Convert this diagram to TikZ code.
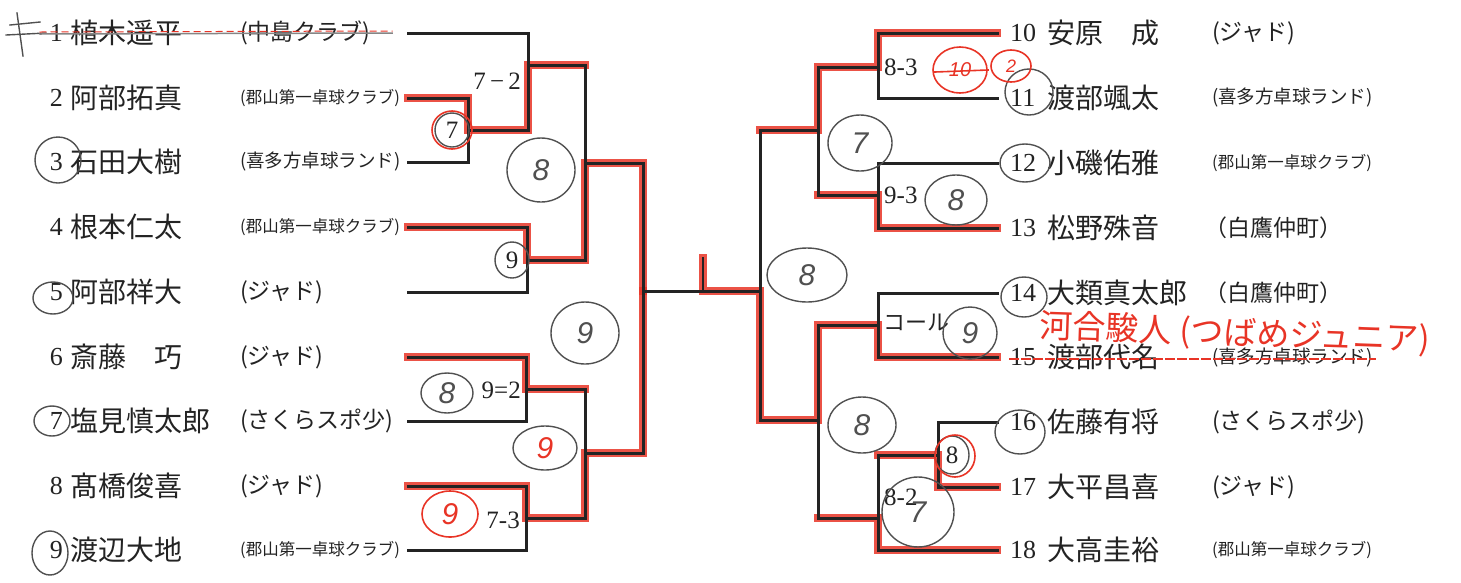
\documentclass[tikz,border=0pt]{standalone}
\usepackage{fontspec}
\setmainfont{Liberation Serif}
\newfontfamily\jp{Noto Sans CJK JP}
\newfontfamily\hand{Liberation Sans}
\definecolor{redpen}{RGB}{232,52,38}
\definecolor{pencil}{RGB}{80,80,80}
\definecolor{ink}{RGB}{35,35,35}
\tikzset{
  bline/.style={ink,line width=3pt},
  rline/.style={redpen,line width=8pt,opacity=.85},
  pen/.style={pencil,line width=1.4pt},
  rpen/.style={redpen,line width=1.6pt},
  num/.style={inner sep=0,text=ink,font=\fontsize{26}{28}\selectfont},
  pname/.style={inner sep=0,anchor=west,text=ink,font=\jp\fontsize{28}{30}\selectfont},
  bigclub/.style={inner sep=0,anchor=west,text=ink,font=\jp\fontsize{23}{25}\selectfont},
  smallclub/.style={inner sep=0,anchor=west,text=ink,font=\jp\fontsize{16.5}{18}\selectfont},
  kitaclub/.style={smallclub,font=\jp\fontsize{18.5}{20}\selectfont},
  score/.style={inner sep=0,text=ink,font=\fontsize{25}{27}\selectfont},
  handnum/.style={inner sep=0,text=pencil,font=\hand\itshape\fontsize{30}{32}\selectfont},
}
\begin{document}
\begin{tikzpicture}[x=1pt,y=-1pt,line cap=rect,line join=miter]
\useasboundingbox (0,0) rectangle (1461,582);
% line ends of the entries
\foreach \i/\y in {1/33,2/98,3/162,4/227,5/292,6/357,7/421,8/486,9/550}
  \coordinate (s\i) at (408,\y);
\foreach \i/\y in {10/33,11/98,12/163,13/228,14/293,15/357,16/422,17/487,18/550}
  \coordinate (t\i) at (997,\y);
% junctions
\coordinate (j23) at (468,130);
\coordinate (j1) at (528,65);
\coordinate (j45) at (527,260);
\coordinate (jA) at (585,163);
\coordinate (j67) at (526,389);
\coordinate (j89) at (526,518);
\coordinate (jB) at (585,453);
\coordinate (jL) at (643,291);
\coordinate (jR) at (760,291);
\coordinate (j1011) at (878,67);
\coordinate (j1213) at (878,195);
\coordinate (jC) at (818,130);
\coordinate (j1415) at (878,325);
\coordinate (j1617) at (938,455);
\coordinate (j18) at (878,518);
\coordinate (jD) at (818,420);
\coordinate (rc) at (703,258);

% red winner traces
\draw[rline] (s2) -| (j23) -- (j23 -| j1) -- (j1) -- (j1 -| jA);
\draw[rline] (s4) -| (j45) -- (j45 -| jA) -- (jA) -- (jA -| jL) -- (jL);
\draw[rline] (s6) -| (j67) -- (j67 -| jB);
\draw[rline] (s8) -| (j89) -- (j89 -| jB) -- (jB) -- (jB -| jL) -- (jL);
\draw[rline] (rc) -- (rc |- jR) -- (jR) -- (jR |- jD) -- (jD) -- (jD |- j1415) -- (j1415) -- (j1415 |- t15) -- (t15);
\draw[rline] (jR |- jC) -- (jC) -- (jC |- j1011) -- (j1011) -- (j1011 |- t10) -- (t10);
\draw[rline] (jC |- j1213) -- (j1213) -- (j1213 |- t13) -- (t13);
\draw[rline] (jD |- j18) -- (j18) -- (j18 |- t18) -- (t18);
\draw[rline] (j18 |- j1617) -- (j1617) -- (j1617 |- t17) -- (t17);

% bracket
\draw[bline] (s2) -| (j23) |- (s3);
\draw[bline] (s1) -| (j1) |- (j23);
\draw[bline] (s4) -| (j45) |- (s5);
\draw[bline] (j1) -| (jA) |- (j45);
\draw[bline] (s6) -| (j67) |- (s7);
\draw[bline] (s8) -| (j89) |- (s9);
\draw[bline] (j67) -| (jB) |- (j89);
\draw[bline] (jA) -| (jL) |- (jB);
\draw[bline] (jL) -- (jR);
\draw[ink,line width=1.5pt] (rc) -- (rc |- jR);
\draw[bline] (t10) -| (j1011) |- (t11);
\draw[bline] (t12) -| (j1213) |- (t13);
\draw[bline] (j1011) -| (jC) |- (j1213);
\draw[bline] (jC) -| (jR) |- (jD);
\draw[bline] (t14) -| (j1415) |- (t15);
\draw[bline] (t16) -| (j1617) |- (t17);
\draw[bline] (j1617) -| (j18) |- (t18);
\draw[bline] (j1415) -| (jD) |- (j18);

% left entries
\foreach \i/\y/\nm in {1/33/植木遥平,2/98/阿部拓真,3/162/石田大樹,4/227/根本仁太,5/292/阿部祥大,6/357/斎藤　巧,7/421/塩見慎太郎,8/486/髙橋俊喜,9/550/渡辺大地}{
  \node[num,anchor=east] (n\i) at (63,\y) {\i};
  \node[pname] (p\i) at (70,\y) {\nm};
}
\node[bigclub] (c1) at (240,33) {(中島クラブ)};
\node[smallclub] (c2) at (240,98) {(郡山第一卓球クラブ)};
\node[kitaclub] (c3) at (240,162) {(喜多方卓球ランド)};
\node[smallclub] (c4) at (240,227) {(郡山第一卓球クラブ)};
\node[bigclub] (c5) at (240,292) {(ジャド)};
\node[bigclub] (c6) at (240,357) {(ジャド)};
\node[bigclub] (c7) at (240,421) {(さくらスポ少)};
\node[bigclub] (c8) at (240,486) {(ジャド)};
\node[smallclub] (c9) at (240,550) {(郡山第一卓球クラブ)};

% right entries
\foreach \i/\y/\nm in {10/33/安原　成,11/98/渡部颯太,12/163/小磯佑雅,13/228/松野殊音,14/293/大類真太郎,15/357/渡部代名,16/422/佐藤有将,17/487/大平昌喜,18/550/大高圭裕}{
  \node[num,anchor=west] (n\i) at (1010,\y) {\i};
  \node[pname] (p\i) at (1047,\y) {\nm};
}
\node[bigclub] (c10) at (1212,33) {(ジャド)};
\node[kitaclub] (c11) at (1212,98) {(喜多方卓球ランド)};
\node[smallclub] (c12) at (1212,163) {(郡山第一卓球クラブ)};
\node[bigclub] (c13) at (1204,228) {（白鷹仲町）};
\node[bigclub] (c14) at (1204,293) {（白鷹仲町）};
\node[kitaclub] (c15) at (1212,358) {(喜多方卓球ランド)};
\node[bigclub] (c16) at (1212,422) {(さくらスポ少)};
\node[bigclub] (c17) at (1212,487) {(ジャド)};
\node[smallclub] (c18) at (1212,550) {(郡山第一卓球クラブ)};

% printed scores
\node[score,anchor=east] (k1) at (521,81) {7\,−\,2};
\node[score] (k23) at (452,130) {7};
\node[score] (k45) at (512,260) {9};
\node[score,anchor=east] (k67) at (521,390) {9=2};
\node[score,anchor=east] (k89) at (520,520) {7-3};
\node[score,anchor=west] (k1011) at (884,67) {8-3};
\node[score,anchor=west] (k1213) at (884,195) {9-3};
\node[anchor=west,inner sep=0,text=ink,font=\jp\fontsize{22}{24}\selectfont] (k1415) at (883,323) {コール};
\node[score] (k1617) at (952,455) {8};
\node[score,anchor=west] (k18) at (884,497) {8-2};

% pencil marks
\draw[pen] (10,25) -- (40,22);
\draw[pen] (6,35) -- (46,33);
\draw[pen] (17,13) -- (23,56);
\draw[pencil!70,line width=1.5pt] (40,34) -- (392,33);
\draw[redpen,line width=1pt,dash pattern=on 6pt off 5pt] (40,32) -- (392,31);
\draw[redpen,line width=1.2pt,dash pattern=on 8pt off 4pt] (1010,359) -- (1375,359);
\foreach \x/\y/\rx/\ry in {58/160/23/23,53/298/20/16,52/421/18/15,50/553/18/22,
  452/130/17/17,512/260/17/18,1029/92/24/23,1025/163/25/19,1024/297/23/20,1020/432/25/22,952/455/17/19}
  \draw[pen] (\x,\y) ellipse [x radius=\rx,y radius=\ry];
\draw[rpen] (452,130) ellipse [x radius=20,y radius=19];
\draw[rpen] (955,456) ellipse [x radius=20,y radius=21];

% handwritten results
\foreach \x/\y/\rx/\ry/\d/\nd in {541/170/34/32/8/h1,585/333/34/31/9/h2,447/393/26/20/8/h3,
  860/143/32/28/7/h4,956/200/31/25/8/h5,807/275/40/27/8/h6,970/333/27/26/9/h7,862/425/34/28/8/h8,918/512/36/35/7/h9}{
  \draw[pen] (\x,\y) ellipse [x radius=\rx,y radius=\ry];
  \node[handnum] (\nd) at (\x,\y) {\d};
}
\draw[pen] (545,448) ellipse [x radius=32,y radius=22];
\node[handnum,text=redpen] (h10) at (545,448) {9};
\draw[rpen] (450,514) ellipse [x radius=28,y radius=23];
\node[handnum,text=redpen] (h11) at (450,514) {9};
\draw[rpen] (960,70) ellipse [x radius=27,y radius=23];
\node[handnum,text=redpen,font=\hand\itshape\fontsize{20}{22}\selectfont] (h12) at (960,70) {10};
\draw[rpen] (935,72) -- (988,70);
\draw[rpen] (1011,66) ellipse [x radius=20,y radius=16];
\node[handnum,text=redpen,font=\hand\itshape\fontsize{18}{20}\selectfont] (h13) at (1011,66) {2};

% substitute entry
\node[anchor=west,inner sep=0,text=redpen,rotate=-2,font=\jp\fontsize{33}{35}\selectfont] (sub15) at (1040,327) {河合駿人 (つばめジュニア)};
\end{tikzpicture}
\end{document}
